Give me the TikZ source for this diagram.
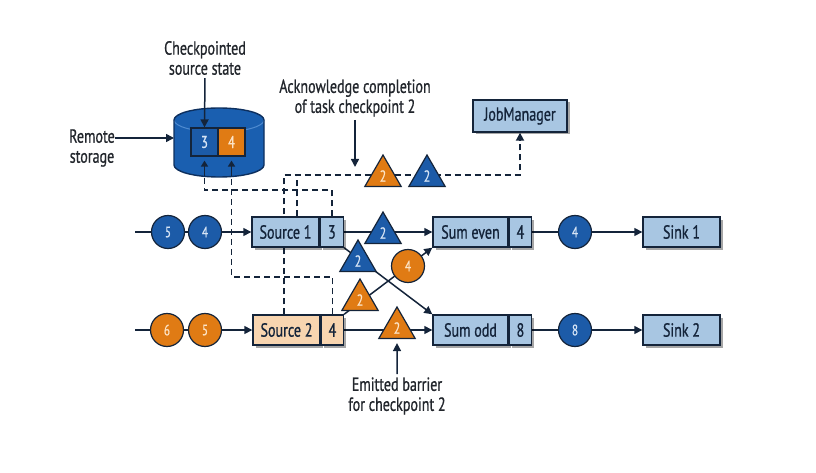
\documentclass[tikz,border=0pt]{standalone}
\usepackage{fontspec}
\setmainfont{PT Sans}[FakeStretch=0.74, FakeBold=0.8]
\usetikzlibrary{shapes.geometric,shadows,arrows.meta,backgrounds,calc}
\definecolor{ink}{HTML}{14243A}
\definecolor{lbltxt}{HTML}{22262C}
\definecolor{boxblue}{HTML}{A8C6E2}
\definecolor{peach}{HTML}{F8D5B0}
\definecolor{dblue}{HTML}{1C5BA8}
\definecolor{orng}{HTML}{E07B14}
\definecolor{ltxt}{HTML}{D6E4F5}
\definecolor{otxt}{HTML}{FCE3C6}
\definecolor{cyl}{HTML}{1A5FB0}
\definecolor{cylrim}{HTML}{0D2F5E}
\definecolor{cylhi}{HTML}{4F8BD0}
\begin{document}
\begin{tikzpicture}[x=1pt,y=-1pt,
 lbl/.style={font=\fontsize{19}{20}\selectfont, text=lbltxt, align=center, inner sep=0pt},
 box/.style={draw=ink, line width=1.4pt, fill=boxblue, minimum height=30pt, inner sep=0pt,
   font=\fontsize{19}{20}\selectfont, text=ink,
   drop shadow={shadow xshift=2.5pt,shadow yshift=-2.5pt,fill=black,opacity=0.35}},
 rec/.style={circle, draw=ink, line width=1.2pt, minimum size=33pt, inner sep=0pt, font=\fontsize{15}{15}\selectfont},
 brec/.style={rec, fill=dblue, text=ltxt},
 orec/.style={rec, fill=orng, text=otxt},
 bar/.style={regular polygon, regular polygon sides=3, draw=ink, line width=1.2pt, minimum size=42pt, inner sep=0pt, font=\fontsize{16}{16}\selectfont},
 bbar/.style={bar, fill=dblue, text=ltxt},
 obar/.style={bar, fill=orng, text=otxt},
 arr/.style={draw=ink, line width=1.5pt, -{Triangle[length=8pt,width=8pt]}},
 smallarr/.style={draw=ink, line width=1.5pt, -{Triangle[length=6pt,width=7pt]}},
 ckptline/.style={draw=ink, line width=1.8pt, dash pattern=on 6pt off 4pt},
 ckpt/.style={ckptline, -{Triangle[length=8pt,width=8pt]}},
 cell/.style={draw=ink, line width=1.2pt, minimum width=27pt, minimum height=28pt, inner sep=0pt, font=\fontsize{17}{17}\selectfont},
]
\useasboundingbox (0,0) rectangle (816,473);

% storage cells
\node[cell, fill=dblue, text=ltxt] (st3) at (204.5,142) {3};
\node[cell, fill=orng, text=otxt] (st4) at (231.5,142) {4};
\coordinate (storeW) at (174,138);
\coordinate (storeB) at (218,176);

% labels
\node[lbl] (cps) at (205,58) {Checkpointed\\source state};
\node[lbl] (rs) at (92,148) {Remote\\storage};
\node[lbl] (ack) at (355,98) {Acknowledge completion\\of task checkpoint 2};
\node[lbl] (emb) at (397,396) {Emitted barrier\\for checkpoint 2};

% job manager
\node[box, minimum width=94pt, minimum height=32pt] (jm) at (520,116) {JobManager};

% operators
\node[box, minimum width=67pt] (s1) at (285.5,232) {Source 1};
\node[box, minimum width=23pt, anchor=west] (s1c) at (s1.east) {3};
\node[box, minimum width=67pt, fill=peach] (s2) at (286.5,330) {Source 2};
\node[box, minimum width=22pt, anchor=west, fill=peach] (s2c) at (s2.east) {4};
\node[box, minimum width=75pt] (se) at (470.5,232) {Sum even};
\node[box, minimum width=22pt, anchor=west] (sec) at (se.east) {4};
\node[box, minimum width=75pt] (so) at (470.5,330) {Sum odd};
\node[box, minimum width=22pt, anchor=west] (soc) at (so.east) {8};
\node[box, minimum width=77pt] (k1) at (681.5,232) {Sink 1};
\node[box, minimum width=77pt] (k2) at (681.5,330) {Sink 2};

% records
\coordinate (in1) at (135,232);
\coordinate (in2) at (135,330);
\node[brec] (r15) at (168,232) {5};
\node[brec] (r14) at (205,232) {4};
\node[orec] (r26) at (167,330) {6};
\node[orec] (r25) at (205,330) {5};
\node[brec] (re4) at (575,232) {4};
\node[brec] (ro8) at (575,330) {8};
\node[orec] (rx4) at (408,266) {4};

% barriers
\node[bbar] (t1) at (383,233) {2};
\node[obar] (t2) at (397,328) {2};
\node[bbar] (tx1) at (358,261) {2};
\node[obar] (tx2) at (360,300) {2};
\node[obar] (ta1) at (383,176) {2};
\node[bbar] (ta2) at (427,176) {2};

% helper coordinates
\coordinate (ackL) at (284,175);
\coordinate (ackS1) at (297,175);
\coordinate (ackT) at (355,167);
\coordinate (yA) at (0,190);
\coordinate (yB) at (0,277);

\begin{scope}[on background layer]
 % storage cylinder
 \path[fill=cyl] (174,120) arc[start angle=180, end angle=0, x radius=45pt, y radius=12pt]
   -- (264,165) arc[start angle=0, end angle=-180, x radius=45pt, y radius=12pt] -- cycle;
 \draw[cylhi, line width=1pt] (174,120) arc[start angle=180, end angle=360, x radius=45pt, y radius=12pt];
 \draw[cylrim, line width=1.4pt] (174,120) arc[start angle=180, end angle=0, x radius=45pt, y radius=12pt]
   -- (264,165) arc[start angle=0, end angle=-180, x radius=45pt, y radius=12pt] -- cycle;

 % data flow
 \draw[arr] (in1) -- (s1.west);
 \draw[arr] (s1c.east) -- (se.west);
 \draw[arr] (sec.east) -- (k1.west);
 \draw[arr] (in2) -- (s2.west);
 \draw[arr] (s2c.east) -- (so.west);
 \draw[arr] (soc.east) -- (k2.west);
 \draw[arr] (s1c.south east) -- (so.north west);
 \draw[arr] (s2c.north east) -- (se.south west);

 % checkpoint state to storage
 \draw[ckptline] (s1c.north) -- (s1c.north |- yA) -| (st3.south |- storeB);
 \draw[smallarr] (st3.south |- storeB) -- ($(st3.south)+(0,4)$);
 \draw[ckptline] (s2c.north) -- (s2c.north |- yB) -| (st4.south |- storeB);
 \draw[smallarr] (st4.south |- storeB) -- ($(st4.south)+(0,4)$);

 % acknowledgements
 \draw[ckpt] (s2.north -| ackL) -- (ackL) -| (jm.south);
 \draw[ckptline] (s1.north -| ackS1) -- (ackS1);

 % label arrows
 \draw[arr, shorten <=3pt] (cps.south) -- (st3.north);
 \draw[arr] (rs.east |- storeW) -- (storeW);
 \draw[arr, shorten <=3pt] (ack.south) -- (ackT);
 \draw[arr, shorten <=3pt, shorten >=4pt] (emb.north) -- (t2.south);
\end{scope}
\end{tikzpicture}
\end{document}
